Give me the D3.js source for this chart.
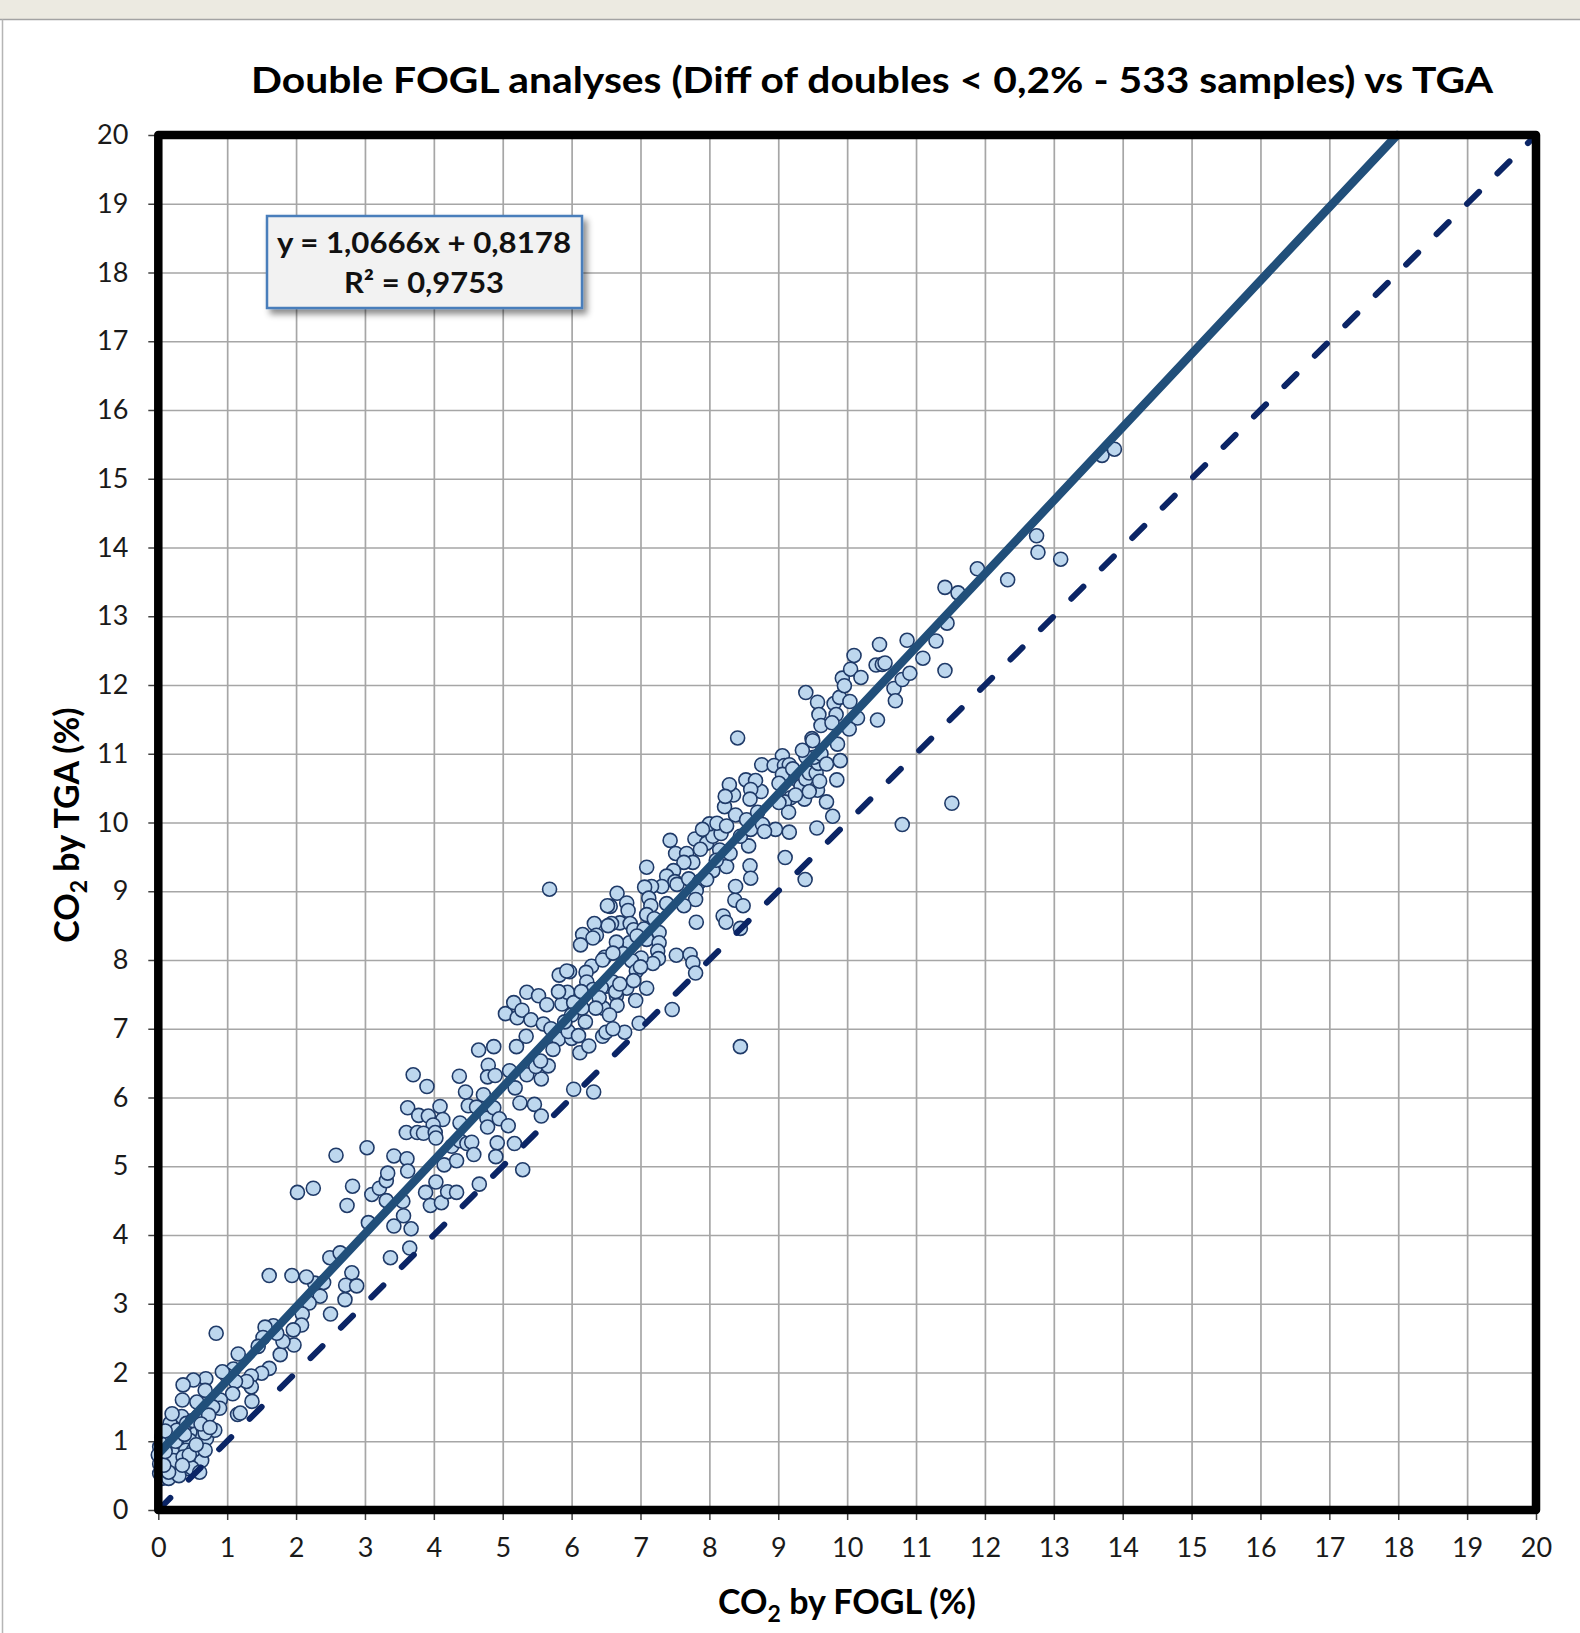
<!DOCTYPE html>
<html>
<head>
<meta charset="utf-8">
<script src="https://cdn.jsdelivr.net/npm/d3@7"></script>
<style>
  html, body { margin: 0; padding: 0; background: #fff; }
  svg text { font-family: Lato, "Open Sans", sans-serif; }
</style>
</head>
<body>
<div id="chart"></div>
<script>
// CO2 by FOGL (%) - x values, one per sample
var co2Fogl = [
  1.61,2.27,2.71,2.50,2.35,2.19,2.09,2.08,1.96,1.97,1.77,1.81,1.72,1.67,1.55,1.52,1.45,1.61,1.50,1.35,
  1.35,1.28,1.16,1.09,1.12,0.99,0.93,1.08,0.90,0.84,1.15,0.89,0.79,0.69,0.51,0.36,0.35,0.68,0.56,0.58,
  0.73,0.56,0.60,0.46,0.34,0.17,0.05,0.02,0.00,0.02,0.05,0.22,0.31,0.27,0.44,0.53,0.63,0.32,0.46,0.40,
  0.17,0.12,0.70,0.82,0.68,0.49,1.19,1.36,0.19,0.27,0.41,0.02,0.10,0.22,0.36,0.51,0.68,0.15,
  0.10,0.25,0.38,0.50,0.62,0.30,0.15,0.08,0.45,0.55,0.75,0.20,0.10,0.35,0.60,
  2.02,2.25,1.94,2.15,2.58,3.03,2.74,2.82,3.10,3.21,3.31,3.33,3.31,3.42,3.61,3.62,3.55,3.56,3.42,3.67,
  3.05,2.49,2.64,2.81,2.72,2.88,2.40,3.37,3.65,3.70,3.90,3.62,3.78,3.92,4.09,4.13,3.99,3.60,3.76,3.85,
  4.02,4.03,3.88,3.95,4.11,4.03,4.20,4.33,4.15,4.33,4.26,4.38,4.48,4.55,4.58,4.38,4.50,4.46,4.37,4.65,
  4.87,4.72,4.79,4.78,4.89,4.62,4.77,4.87,4.78,4.95,5.08,4.92,4.90,5.17,5.29,4.66,5.10,5.18,5.25,5.46,
  5.56,5.20,5.34,5.35,5.56,5.48,5.66,5.55,5.04,5.16,5.21,5.28,5.41,5.59,5.35,5.52,5.64,5.84,5.86,5.94,
  6.03,5.81,5.73,6.00,5.95,6.12,6.03,
  5.68,7.43,7.09,7.51,7.67,7.79,7.96,7.87,8.05,8.17,8.00,8.11,8.22,8.38,8.54,8.57,8.59,8.60,8.38,8.37,
  8.49,8.20,8.24,8.45,8.25,8.05,7.76,7.63,7.48,7.38,7.50,7.53,7.70,7.86,7.96,7.81,7.80,7.63,7.38,7.31,
  7.16,7.06,7.12,7.15,7.09,7.81,7.52,7.72,7.76,7.80,7.46,6.66,6.56,6.52,6.80,6.82,6.70,6.85,6.58,6.90,
  6.84,6.65,6.53,6.33,6.36,6.16,6.13,6.31,6.48,7.09,7.27,7.27,7.25,7.26,7.18,7.01,6.87,6.94,7.09,6.80,
  6.93,6.65,6.66,6.46,6.51,6.60,6.29,6.21,5.97,5.82,5.93,5.81,6.22,6.31,6.43,6.40,6.64,6.14,6.45,6.77,
  6.98,6.32,8.45,6.75,
  6.00,6.20,6.35,6.55,6.10,6.25,6.50,6.60,5.90,6.70,6.90,7.00,6.45,6.60,7.05,7.20,6.95,6.15,5.70,
  8.30,8.45,8.15,8.60,8.70,8.35,8.75,8.10,7.90,8.25,
  8.41,9.40,9.57,9.59,9.62,9.49,9.81,9.89,9.93,9.96,10.05,10.10,10.20,10.04,10.15,9.84,10.03,9.86,10.44,10.42,
  10.51,10.55,10.47,10.68,10.70,10.80,10.91,10.87,10.80,9.57,9.06,8.76,8.94,9.09,9.16,9.06,9.01,9.21,9.28,9.33,
  9.40,9.45,9.55,9.58,9.52,9.40,9.38,9.18,9.09,9.15,9.01,8.58,8.53,8.67,8.29,8.60,8.59,8.23,8.77,8.96,
  9.16,8.80,9.79,9.56,9.10,9.39,
  9.50,9.62,9.70,9.45,9.85,9.35,9.25,9.70,9.60,9.90,9.78,
  13.70,13.88,12.75,12.77,13.10,12.33,11.89,11.42,11.61,11.45,11.29,11.10,11.42,11.52
];

// CO2 by TGA (%) - y values, same order as co2Fogl
var co2Tga = [
  3.41,3.30,3.06,2.85,3.11,3.01,2.85,2.69,2.62,2.40,2.26,2.45,2.57,2.68,2.66,2.51,2.38,2.06,1.99,1.95,
  1.79,1.87,2.27,2.05,1.87,1.96,2.01,1.69,1.60,2.57,1.39,1.48,1.50,1.91,1.89,1.82,1.60,1.74,1.57,1.36,
  1.38,1.21,1.06,1.14,1.36,1.26,1.06,0.92,0.80,0.53,0.46,0.87,0.72,0.58,0.60,0.70,0.72,0.99,1.01,0.87,
  0.67,0.97,1.04,1.16,1.12,0.61,1.41,1.58,1.09,1.16,1.26,0.67,0.77,0.72,0.77,0.87,0.87,0.46,
  1.15,1.00,1.10,1.30,1.25,0.50,0.55,0.65,0.80,0.95,1.20,1.40,0.85,0.65,0.55,
  4.62,4.68,3.41,3.39,5.16,5.27,4.43,4.71,4.59,4.68,4.79,4.90,4.50,5.15,5.11,4.93,4.49,4.28,4.13,4.09,
  4.18,3.67,3.74,3.45,3.27,3.26,3.31,3.67,3.81,6.33,6.16,5.85,5.74,5.73,5.87,5.68,5.60,5.49,5.49,5.48,
  5.49,5.41,4.62,4.43,4.47,4.77,4.63,4.62,5.02,5.08,5.29,5.37,5.33,5.35,5.17,5.63,5.88,6.08,6.31,6.69,
  6.74,6.04,6.47,6.30,6.32,5.86,5.70,5.85,5.57,5.69,5.59,5.34,5.14,5.33,4.95,4.74,6.39,6.14,5.92,5.90,
  5.73,6.74,6.89,6.33,6.27,6.45,6.46,6.53,7.22,7.38,7.16,7.27,7.13,7.07,7.53,7.48,7.35,7.52,7.36,7.53,
  7.38,6.85,6.70,6.86,6.96,6.65,6.12,
  9.03,9.74,9.35,9.55,9.55,9.76,9.70,9.61,9.80,9.84,9.98,9.99,10.23,10.11,10.04,9.66,9.37,9.19,9.07,8.87,
  8.79,8.64,8.55,8.46,9.36,9.30,9.42,9.42,9.30,9.22,9.14,9.10,9.18,9.14,9.17,9.01,8.88,8.79,8.82,9.07,
  9.07,9.06,8.90,8.79,8.66,8.55,8.07,8.08,7.96,7.81,7.28,8.97,8.78,8.79,8.83,8.72,8.54,8.53,8.53,8.44,
  8.25,8.26,8.50,8.53,8.36,8.37,8.22,8.32,8.04,8.30,8.40,8.25,8.13,8.02,7.95,8.03,7.99,7.84,7.59,7.59,
  7.41,7.48,7.34,7.30,7.62,7.68,7.91,7.82,7.83,7.78,7.84,7.54,7.68,7.57,7.60,7.45,7.54,7.54,6.89,6.95,
  7.08,6.08,6.74,8.09,
  7.20,7.10,7.30,7.20,6.90,6.75,6.95,7.00,7.10,7.65,7.70,7.90,8.00,8.10,8.45,8.60,8.35,7.30,7.00,
  9.55,9.80,9.60,9.90,10.15,10.40,10.45,9.45,9.90,9.95,
  11.23,11.89,11.75,11.57,11.41,11.22,11.73,11.82,12.10,11.99,12.23,12.43,12.11,11.76,11.52,11.57,11.36,11.14,11.49,12.29,
  12.30,12.32,12.59,11.95,11.77,12.08,12.17,12.65,9.97,10.47,10.97,10.84,10.83,10.83,10.84,10.70,10.57,10.78,10.62,10.53,
  10.63,10.72,10.72,10.86,10.95,10.96,10.34,10.36,10.30,10.15,10.29,10.60,10.62,10.61,10.55,10.48,10.34,10.38,9.97,9.90,
  9.86,9.87,10.09,9.92,9.49,9.17,
  11.19,11.00,10.85,10.45,10.62,11.05,10.40,10.30,10.60,10.90,11.45,
  15.34,15.43,14.17,13.93,13.83,13.53,13.69,13.42,13.34,12.90,12.64,12.39,12.21,10.28
];

var axisTicks = d3.range(0, 21);          // 0 .. 20 on both axes
var trendSlope = 1.0666;
var trendIntercept = 0.8178;
var trendLabel = ["y = 1,0666x + 0,8178", "R\u00b2 = 0,9753"];
var chartTitle = "Double FOGL analyses (Diff of doubles < 0,2% - 533 samples) vs TGA";

var W = 1580, H = 1633;
var plotL = 158.3, plotR = 1536, plotT = 135, plotB = 1510;

var svg = d3.select("#chart").append("svg")
    .attr("width", W)
    .attr("height", H);

var defs = svg.append("defs");
var shadow = defs.append("filter").attr("id", "boxShadow")
    .attr("x", "-10%").attr("y", "-20%").attr("width", "130%").attr("height", "150%");
shadow.append("feDropShadow")
    .attr("dx", 4).attr("dy", 5).attr("stdDeviation", 3)
    .attr("flood-color", "#000").attr("flood-opacity", 0.45);

// window chrome round the picture
svg.append("rect").attr("x", 0).attr("y", 0).attr("width", W).attr("height", 19).style("fill", "#eceae1");
svg.append("line").attr("x1", 0).attr("x2", W).attr("y1", 19.5).attr("y2", 19.5).style("stroke", "#a3a3a3").style("stroke-width", 1.5);
svg.append("line").attr("x1", 2.5).attr("x2", 2.5).attr("y1", 19.5).attr("y2", H).style("stroke", "#b5b5b5").style("stroke-width", 1.5);

var x = d3.scaleLinear().domain([0, 20]).range([plotL, plotR]);
var y = d3.scaleLinear().domain([0, 20]).range([plotB, plotT]);

// grid
var gridX = svg.append("g").attr("transform", "translate(0," + plotB + ")")
    .call(d3.axisBottom(x).tickValues(axisTicks).tickSize(-(plotB - plotT)).tickFormat(""));
var gridY = svg.append("g").attr("transform", "translate(" + plotL + ",0)")
    .call(d3.axisLeft(y).tickValues(axisTicks).tickSize(-(plotR - plotL)).tickFormat(""));
[gridX, gridY].forEach(function (g) {
    g.select(".domain").remove();
    g.selectAll(".tick line").style("stroke", "#a6a6a6").style("stroke-width", 1.7);
});

// axes with outside ticks and labels
var xAxis = svg.append("g").attr("transform", "translate(0," + plotB + ")")
    .call(d3.axisBottom(x).tickValues(axisTicks).tickSize(10).tickPadding(18).tickFormat(d3.format("d")));
var yAxis = svg.append("g").attr("transform", "translate(" + plotL + ",0)")
    .call(d3.axisLeft(y).tickValues(axisTicks).tickSize(10).tickPadding(20).tickFormat(d3.format("d")));
[xAxis, yAxis].forEach(function (g) {
    g.select(".domain").remove();
    g.selectAll(".tick line").style("stroke", "#404040").style("stroke-width", 1.5);
    g.selectAll(".tick text").style("font-size", "27px").style("fill", "#1a1a1a")
        .style("font-family", "Lato, sans-serif");
});

// samples
var samples = co2Fogl.map(function (d, i) { return { fogl: d, tga: co2Tga[i] }; });
svg.append("g").selectAll("circle")
    .data(samples)
    .enter()
    .append("circle")
    .attr("cx", function (d) { return x(d.fogl); })
    .attr("cy", function (d) { return y(d.tga); })
    .attr("r", 7)
    .style("fill", "#bdd7ee")
    .style("stroke", "#1f3a68")
    .style("stroke-width", 1.6);

// 1:1 line
svg.append("line")
    .attr("x1", x(0)).attr("y1", y(0))
    .attr("x2", x(20)).attr("y2", y(20))
    .style("stroke", "#0b2566")
    .style("stroke-width", 6)
    .style("stroke-linecap", "round")
    .style("stroke-dasharray", "17,26");

// linear trendline
var trendEnd = (20 - trendIntercept) / trendSlope;
svg.append("line")
    .attr("x1", x(0)).attr("y1", y(trendIntercept))
    .attr("x2", x(trendEnd)).attr("y2", y(20))
    .style("stroke", "#214f7a")
    .style("stroke-width", 8.5)
    .style("stroke-linecap", "round");

// plot frame
svg.append("rect")
    .attr("x", plotL).attr("y", plotT)
    .attr("width", plotR - plotL).attr("height", plotB - plotT)
    .style("fill", "none")
    .style("stroke", "#000")
    .style("stroke-width", 8.5)
    .style("stroke-linejoin", "round");

// trendline equation box
var box = svg.append("g");
box.append("rect")
    .attr("x", 267).attr("y", 216).attr("width", 315).attr("height", 92)
    .style("fill", "#f2f2f2")
    .style("stroke", "#4a7ebb")
    .style("stroke-width", 2.5)
    .attr("filter", "url(#boxShadow)");
box.selectAll("text")
    .data(trendLabel)
    .enter()
    .append("text")
    .attr("x", 424)
    .attr("y", function (d, i) { return 253 + i * 40; })
    .attr("text-anchor", "middle")
    .attr("textLength", function (d, i) { return i === 0 ? 294 : 160; })
    .attr("lengthAdjust", "spacingAndGlyphs")
    .style("font-size", "29px")
    .style("font-weight", "bold")
    .style("fill", "#111")
    .text(function (d) { return d; });

// title
svg.append("text")
    .attr("x", 872).attr("y", 93)
    .attr("text-anchor", "middle")
    .attr("textLength", 1242)
    .attr("lengthAdjust", "spacingAndGlyphs")
    .style("font-size", "37px")
    .style("font-weight", "bold")
    .style("fill", "#000")
    .text(chartTitle);

// axis titles
function co2Title(sel, rest) {
    sel.append("tspan").text("CO");
    sel.append("tspan").text("2").style("font-size", "23px").attr("dy", 8);
    sel.append("tspan").text(rest).attr("dy", -8);
}
svg.append("text")
    .attr("x", 847).attr("y", 1614)
    .attr("text-anchor", "middle")
    .style("font-size", "34px")
    .style("font-weight", "bold")
    .style("fill", "#000")
    .call(co2Title, " by FOGL (%)");

svg.append("text")
    .attr("transform", "translate(79,825) rotate(-90)")
    .attr("text-anchor", "middle")
    .style("font-size", "34px")
    .style("font-weight", "bold")
    .style("fill", "#000")
    .call(co2Title, " by TGA (%)");
</script>
</body>
</html>
